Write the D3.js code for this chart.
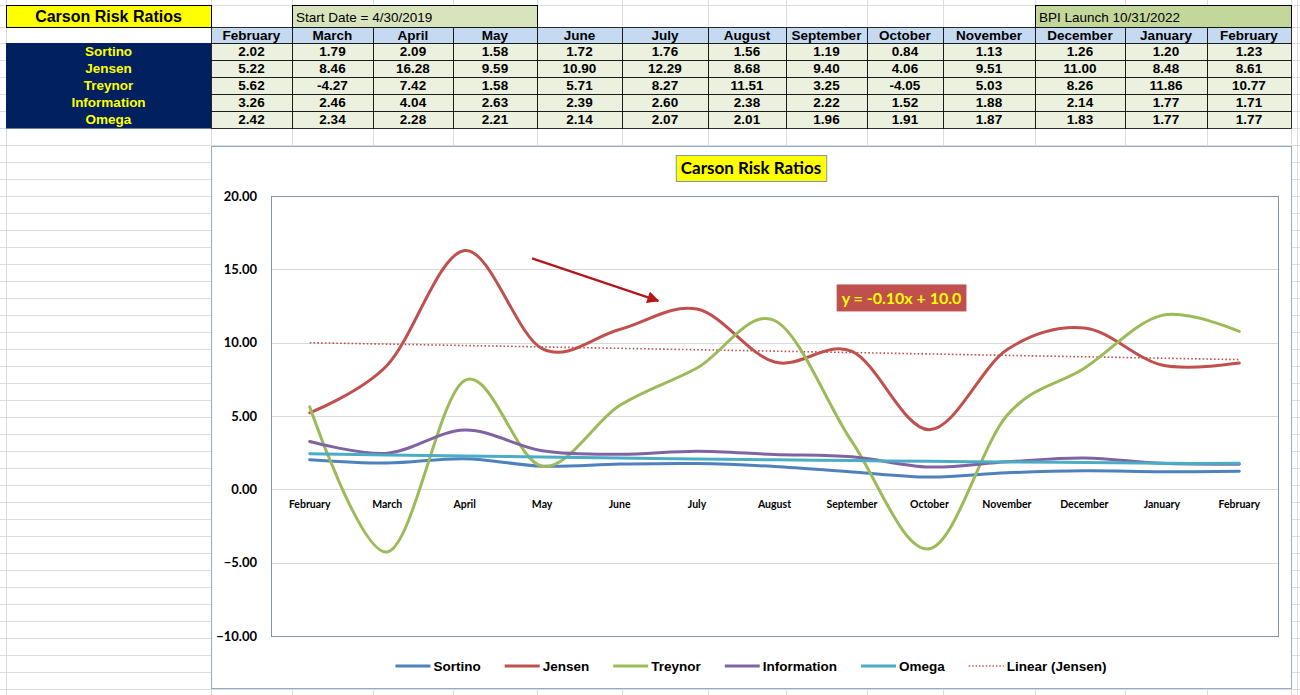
<!DOCTYPE html>
<html><head><meta charset="utf-8">
<script src="https://cdn.jsdelivr.net/npm/d3@7"></script>
<style>
html,body{margin:0;padding:0;background:#fff;overflow:hidden}
svg{display:block}
</style></head><body>
<svg id="c" width="1300" height="695"></svg>
<script>
// ---------- data ----------
const months = ["February","March","April","May","June","July","August","September","October","November","December","January","February"];
const seriesNames = ["Sortino","Jensen","Treynor","Information","Omega"];
const sortino     = [2.02,1.79,2.09,1.58,1.72,1.76,1.56,1.19,0.84,1.13,1.26,1.20,1.23];
const jensen      = [5.22,8.46,16.28,9.59,10.90,12.29,8.68,9.40,4.06,9.51,11.00,8.48,8.61];
const treynor     = [5.62,-4.27,7.42,1.58,5.71,8.27,11.51,3.25,-4.05,5.03,8.26,11.86,10.77];
const information = [3.26,2.46,4.04,2.63,2.39,2.60,2.38,2.22,1.52,1.88,2.14,1.77,1.71];
const omega       = [2.42,2.34,2.28,2.21,2.14,2.07,2.01,1.96,1.91,1.87,1.83,1.77,1.77];
const yTicks = [20,15,10,5,0,-5,-10];
const chartTitle = "Carson Risk Ratios";
const trendName = "Linear (Jensen)";
const trendLabel = "y = -0.10x + 10.0";
const startDateLabel = "Start Date = 4/30/2019";
const launchLabel = "BPI Launch 10/31/2022";
// annotation anchors in data space [category index, value]
const arrowFrom = [2.87, 15.75];
const arrowTo = [4.5, 12.85];
const trendLabelAt = [7.64, 13.05];

// ---------- styles ----------
const colors = {Sortino:"#4f81bd", Jensen:"#c0504d", Treynor:"#9bbb59", Information:"#8064a2", Omega:"#4bacc6"};
const values = {Sortino:sortino, Jensen:jensen, Treynor:treynor, Information:information, Omega:omega};
const sheetFont = "'Liberation Sans',Arial,sans-serif";
const chartFont = "Lato,'Open Sans',sans-serif";

const W = 1300, H = 695;
const svg = d3.select("#c");

// ---------- spreadsheet background ----------
const colEdges = [211,292,373,453,537,622,708,786,867,943,1035,1125,1207,1291];
const tableLeft = 6;
const grid = svg.append("g").attr("stroke","#dadcdd").attr("stroke-width",1);
const hRows = [5,27].concat(d3.range(43, H, 17));
grid.selectAll("line.h").data(hRows).join("line")
  .attr("x1",0).attr("x2",W).attr("y1",d=>d+0.5).attr("y2",d=>d+0.5);
grid.selectAll("line.v").data([tableLeft].concat(colEdges).concat([1297])).join("line")
  .attr("y1",0).attr("y2",H).attr("x1",d=>d+0.5).attr("x2",d=>d+0.5);

// ---------- table ----------
const tbl = svg.append("g");
const topY = 5, hdrY = 27, rowY0 = 43, rowH = 17;
const cellFont = 13.5;
// title cell
tbl.append("rect").attr("x",tableLeft+0.5).attr("y",topY+0.5).attr("width",colEdges[0]-tableLeft).attr("height",hdrY-topY)
  .attr("fill","#ffff00").attr("stroke","#000");
tbl.append("text").attr("x",(tableLeft+colEdges[0])/2).attr("y",22).attr("text-anchor","middle")
  .attr("font-family",sheetFont).attr("font-weight","bold").attr("font-size",16).text(chartTitle);
// start date
tbl.append("rect").attr("x",colEdges[1]+0.5).attr("y",topY+0.5).attr("width",colEdges[4]-colEdges[1]).attr("height",hdrY-topY)
  .attr("fill","#d8e4bc").attr("stroke","#000");
tbl.append("text").attr("x",colEdges[1]+4).attr("y",21.5)
  .attr("font-family",sheetFont).attr("font-size",13.5).text(startDateLabel);
// launch
tbl.append("rect").attr("x",colEdges[10]+0.5).attr("y",topY+0.5).attr("width",colEdges[13]-colEdges[10]).attr("height",hdrY-topY)
  .attr("fill","#c4d79b").attr("stroke","#000");
tbl.append("text").attr("x",colEdges[10]+4).attr("y",21.5)
  .attr("font-family",sheetFont).attr("font-size",13.5).text(launchLabel);
// header row
months.forEach((m,i)=>{
  const x0 = colEdges[i], x1 = colEdges[i+1];
  tbl.append("rect").attr("x",x0+0.5).attr("y",hdrY+0.5).attr("width",x1-x0).attr("height",rowY0-hdrY)
    .attr("fill","#c5d9f1").attr("stroke","#000").attr("stroke-width",0.8);
  tbl.append("text").attr("x",(x0+x1)/2).attr("y",hdrY+13).attr("text-anchor","middle")
    .attr("font-family",sheetFont).attr("font-weight","bold").attr("font-size",cellFont).text(m);
});
// label column
tbl.append("rect").attr("x",tableLeft).attr("y",rowY0).attr("width",colEdges[0]-tableLeft+0.5).attr("height",rowH*seriesNames.length+0.5)
  .attr("fill","#002060");
seriesNames.forEach((s,r)=>{
  const y0 = rowY0 + r*rowH;
  tbl.append("text").attr("x",(tableLeft+colEdges[0])/2).attr("y",y0+13).attr("text-anchor","middle")
    .attr("font-family",sheetFont).attr("font-weight","bold").attr("font-size",cellFont).attr("fill","#ffff00").text(s);
  values[s].forEach((v,i)=>{
    const x0 = colEdges[i], x1 = colEdges[i+1];
    tbl.append("rect").attr("x",x0+0.5).attr("y",y0+0.5).attr("width",x1-x0).attr("height",rowH)
      .attr("fill","#ebf1de").attr("stroke","#000").attr("stroke-width",0.8);
    tbl.append("text").attr("x",(x0+x1)/2).attr("y",y0+13).attr("text-anchor","middle")
      .attr("font-family",sheetFont).attr("font-weight","bold").attr("font-size",cellFont).text(v.toFixed(2));
  });
});

// ---------- chart ----------
const chart = {x0:211, y0:146, x1:1291, y1:688};
const plot = {left:271, right:1278, top:196, bottom:636};
svg.append("rect").attr("x",chart.x0+0.5).attr("y",chart.y0+0.5).attr("width",chart.x1-chart.x0).attr("height",chart.y1-chart.y0)
  .attr("fill","#fff").attr("stroke","#95abc3").attr("stroke-width",1);

const y = d3.scaleLinear().domain([-10,20]).range([plot.bottom, plot.top]);
const xb = d3.scaleBand().domain(d3.range(months.length)).range([plot.left, plot.right]).padding(0);
const bw = xb.bandwidth();
const xPos = i => plot.left + bw*(i+0.5);

// gridlines
svg.append("g").selectAll("line").data(yTicks.filter(t=>t>-10 && t<20)).join("line")
  .attr("x1",plot.left).attr("x2",plot.right).attr("y1",d=>Math.round(y(d))+0.5).attr("y2",d=>Math.round(y(d))+0.5)
  .attr("stroke","#d9d9d9").attr("stroke-width",1);
svg.append("rect").attr("x",plot.left+0.5).attr("y",plot.top+0.5).attr("width",plot.right-plot.left).attr("height",plot.bottom-plot.top)
  .attr("fill","none").attr("stroke","#7f97ad").attr("stroke-width",1);

// y axis labels
const yAxis = d3.axisLeft(y).tickValues(yTicks).tickFormat(d3.format(".2f")).tickSize(0).tickPadding(0);
const yg = svg.append("g").attr("transform",`translate(${plot.left-14},0)`).call(yAxis);
yg.select(".domain").remove();
yg.selectAll("text").attr("font-family",chartFont).attr("font-weight","bold").attr("font-size",13).attr("fill","#000");

// x axis labels at zero line
const xAxis = d3.axisBottom(xb).tickFormat(i=>months[i]).tickSize(0).tickPadding(11);
const xg = svg.append("g").attr("transform",`translate(0,${y(0)})`).call(xAxis);
xg.select(".domain").remove();
xg.selectAll("text").attr("font-family",chartFont).attr("font-weight","bold").attr("font-size",10.5).attr("fill","#000");

// title
const tg = svg.append("g");
const tt = tg.append("text").attr("x",(chart.x0+chart.x1)/2).attr("y",174).attr("text-anchor","middle")
  .attr("font-family",chartFont).attr("font-weight","bold").attr("font-size",17).text(chartTitle);
const tw = tt.node().getComputedTextLength();
tg.insert("rect","text").attr("x",(chart.x0+chart.x1)/2 - tw/2 - 5 +0.5).attr("y",155.5).attr("width",tw+10).attr("height",26)
  .attr("fill","#ffff00").attr("stroke","#7f97ad");

// trendline (least squares on Jensen)
const n = jensen.length;
const xs = d3.range(1,n+1);
const mx = d3.mean(xs), my = d3.mean(jensen);
const slope = d3.sum(xs.map((xv,i)=>(xv-mx)*(jensen[i]-my))) / d3.sum(xs.map(xv=>(xv-mx)**2));
const icpt = my - slope*mx;
svg.append("line").attr("x1",xPos(0)).attr("x2",xPos(n-1)).attr("y1",y(icpt+slope*1)).attr("y2",y(icpt+slope*n))
  .attr("stroke","#c0504d").attr("stroke-width",1.6).attr("stroke-dasharray","1.6,2.2");

// series lines
const line = d3.line().x((d,i)=>xPos(i)).y(d=>y(d)).curve(d3.curveCatmullRom.alpha(0));
seriesNames.forEach(s=>{
  svg.append("path").datum(values[s]).attr("d",line).attr("fill","none")
    .attr("stroke",colors[s]).attr("stroke-width",3).attr("stroke-linecap","round").attr("stroke-linejoin","round");
});

// arrow annotation
svg.append("defs").append("marker").attr("id","ah").attr("viewBox","0 0 10 10").attr("refX",9).attr("refY",5)
  .attr("markerWidth",6).attr("markerHeight",5.5).attr("orient","auto").attr("markerUnits","strokeWidth")
  .append("path").attr("d","M0,0 L10,5 L0,10 z").attr("fill","#b5161c");
svg.append("line").attr("x1",xPos(arrowFrom[0])).attr("y1",y(arrowFrom[1])).attr("x2",xPos(arrowTo[0])).attr("y2",y(arrowTo[1]))
  .attr("stroke","#b5161c").attr("stroke-width",2.2).attr("marker-end","url(#ah)");

// equation label
const eg = svg.append("g");
const et = eg.append("text").attr("x",xPos(trendLabelAt[0])).attr("y",y(trendLabelAt[1])+6).attr("text-anchor","middle")
  .attr("font-family",chartFont).attr("font-weight","bold").attr("font-size",16).attr("fill","#ffff00").text(trendLabel);
const ew = et.node().getComputedTextLength();
eg.insert("rect","text").attr("x",xPos(trendLabelAt[0])-ew/2-5).attr("y",y(trendLabelAt[1])-13.5).attr("width",ew+10).attr("height",27)
  .attr("fill","#c0504d");

// legend
const legendItems = seriesNames.concat([trendName]);
const lg = svg.append("g");
let cx = 0;
const ly = 666, gap = 24;
legendItems.forEach((name,k)=>{
  const isTrend = name===trendName;
  const it = lg.append("g").attr("transform",`translate(${cx},0)`);
  it.append("line").attr("x1",0).attr("x2",35).attr("y1",ly).attr("y2",ly)
    .attr("stroke",isTrend?"#c0504d":colors[name]).attr("stroke-width",isTrend?1.4:3)
    .attr("stroke-dasharray",isTrend?"1.4,2":null);
  const t = it.append("text").attr("x",38).attr("y",ly+5).attr("font-family",sheetFont).attr("font-weight","bold")
    .attr("font-size",13.5).text(name);
  cx += 38 + t.node().getComputedTextLength() + gap;
});
const totalW = cx - gap;
lg.attr("transform",`translate(${(chart.x0+chart.x1)/2 - totalW/2},0)`);
</script>
</body></html>
